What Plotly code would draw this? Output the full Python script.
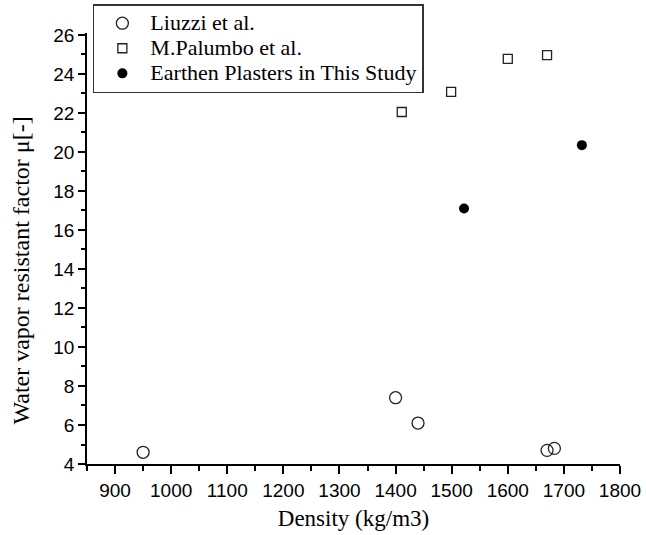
import plotly.graph_objects as go

liuzzi_x = [950, 1400, 1440, 1670, 1683]
liuzzi_y = [4.6, 7.4, 6.1, 4.7, 4.8]

palumbo_x = [1411, 1499, 1600, 1670]
palumbo_y = [22.05, 23.08, 24.77, 24.97]

study_x = [1522, 1732]
study_y = [17.1, 20.35]

series_names = ["Liuzzi et al.", "M.Palumbo et al.", "Earthen Plasters in This Study"]

x_ticks = [900, 1000, 1100, 1200, 1300, 1400, 1500, 1600, 1700, 1800]
y_ticks = [4, 6, 8, 10, 12, 14, 16, 18, 20, 22, 24, 26]

SERIF = "Liberation Serif, serif"
SANS = "Liberation Sans, Arial, sans-serif"


def legend_label(s):
    return '<span style="font-size:22px">' + s + '</span>'


fig = go.Figure()
fig.add_trace(go.Scatter(
    x=liuzzi_x, y=liuzzi_y, mode="markers", name=legend_label(series_names[0]),
    marker=dict(symbol="circle-open", size=12, color="#222", line=dict(width=1.3))))
fig.add_trace(go.Scatter(
    x=palumbo_x, y=palumbo_y, mode="markers", name=legend_label(series_names[1]),
    marker=dict(symbol="square-open", size=9, color="#222", line=dict(width=1.3))))
fig.add_trace(go.Scatter(
    x=study_x, y=study_y, mode="markers", name=legend_label(series_names[2]),
    marker=dict(symbol="circle", size=10, color="black")))

axis_common = dict(
    showline=True, linecolor="black", linewidth=1.8, mirror=False,
    showgrid=False, zeroline=False, ticks="outside", tickcolor="black",
    tickwidth=1.5, automargin=False,
    tickfont=dict(family=SANS, size=19, color="black"),
)

fig.update_xaxes(
    range=[850, 1800], tickvals=x_ticks, ticklen=8,
    minor=dict(dtick=50, tick0=850, ticks="outside", ticklen=5, tickcolor="black", tickwidth=1.5),
    title=dict(text="Density (kg/m3)", font=dict(family=SERIF, size=23, color="black"), standoff=10),
    **axis_common)
fig.update_yaxes(
    range=[4, 26.1], tickvals=y_ticks, ticklen=7,
    minor=dict(dtick=1, tick0=4, ticks="outside", ticklen=4, tickcolor="black", tickwidth=1.5),
    **axis_common)

fig.add_annotation(
    text="Water vapor resistant factor μ[-]", textangle=-90,
    xref="paper", yref="paper", x=-0.123, y=0.45,
    xanchor="center", yanchor="middle", showarrow=False,
    font=dict(family=SERIF, size=24, color="black"))

fig.update_layout(
    width=646, height=535,
    margin=dict(l=87, r=26, t=33, b=71, autoexpand=False),
    plot_bgcolor="white", paper_bgcolor="white",
    showlegend=True,
    legend=dict(
        x=0.011, y=1.067, xanchor="left", yanchor="top",
        bgcolor="white", bordercolor="#333", borderwidth=1.5,
        font=dict(family=SERIF, size=17, color="black"),
        itemsizing="trace", itemwidth=46, tracegroupgap=0,
    ),
)

fig.write_html("out.html", config={"displayModeBar": False},
               post_script="document.body.style.margin='0px';")
